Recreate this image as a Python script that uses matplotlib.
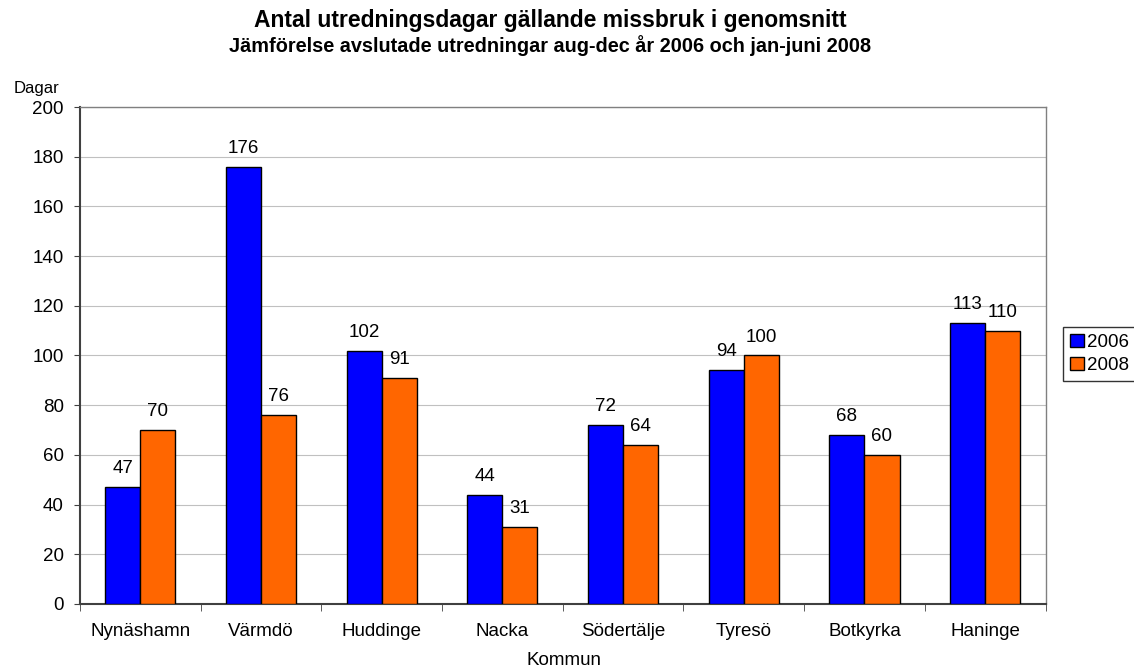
import matplotlib.pyplot as plt
import numpy as np

plt.rcParams['font.family'] = ['Liberation Sans', 'DejaVu Sans']

kommuner = ["Nynäshamn", "Värmdö", "Huddinge", "Nacka", "Södertälje", "Tyresö", "Botkyrka", "Haninge"]
dagar_2006 = [47, 176, 102, 44, 72, 94, 68, 113]
dagar_2008 = [70, 76, 91, 31, 64, 100, 60, 110]
serier = ["2006", "2008"]
farger = ["#0000FF", "#FF6600"]

fig = plt.figure(figsize=(11.34, 6.71), dpi=100)
ax = fig.add_axes([0.0705, 0.0999, 0.8515, 0.7406])

x = np.arange(len(kommuner))
w = 0.29
for i, (vals, c, lab) in enumerate(zip([dagar_2006, dagar_2008], farger, serier)):
    pos = x + (i - 0.5) * w
    ax.bar(pos, vals, width=w, color=c, edgecolor="black", linewidth=1.0,
           label=lab, zorder=3)
    for xb, v in zip(pos, vals):
        ax.text(xb, v + 4, str(v), ha="center", va="bottom", fontsize=13.5, zorder=4)

ax.set_xlim(-0.5, len(kommuner) - 0.5)
ax.set_ylim(0, 200)
ax.set_yticks(np.arange(0, 201, 20))
ax.yaxis.grid(True, color="#c0c0c0", linewidth=0.8, zorder=0)
ax.set_axisbelow(True)

ax.set_xticks(x)
ax.set_xticklabels(kommuner, fontsize=13.5)
ax.tick_params(axis="x", length=0, pad=14)
ax.set_xticks(np.arange(-0.5, len(kommuner)), minor=True)
ax.tick_params(axis="x", which="minor", length=5, color="#404040", direction="out")
ax.tick_params(axis="y", labelsize=13.5, length=4.5, pad=7, color="#404040", direction="out")

for s in ["left", "bottom"]:
    ax.spines[s].set_color("#404040")
    ax.spines[s].set_linewidth(1.5)
for s in ["top", "right"]:
    ax.spines[s].set_color("#808080")
    ax.spines[s].set_linewidth(1.0)

fig.text(0.497, 0.015, "Kommun", fontsize=13.5, ha="center", va="center")
fig.text(0.012, 0.868, "Dagar", fontsize=12, ha="left", va="center")

fig.text(0.485, 0.970, "Antal utredningsdagar gällande missbruk i genomsnitt",
         fontsize=16.5, fontweight="bold", ha="center", va="center")
fig.text(0.485, 0.932, "Jämförelse avslutade utredningar aug-dec år 2006 och jan-juni 2008",
         fontsize=14.3, fontweight="bold", ha="center", va="center")

leg = ax.legend(loc="upper left", bbox_to_anchor=(0.9374, 0.5127),
                bbox_transform=fig.transFigure, fontsize=13.5,
                frameon=True, fancybox=False, edgecolor="black", handlelength=0.75,
                handleheight=0.75, handletextpad=0.2, borderpad=0.35, labelspacing=0.3,
                borderaxespad=0)
leg.get_frame().set_linewidth(1.0)

fig.savefig("out.png", dpi=100)
